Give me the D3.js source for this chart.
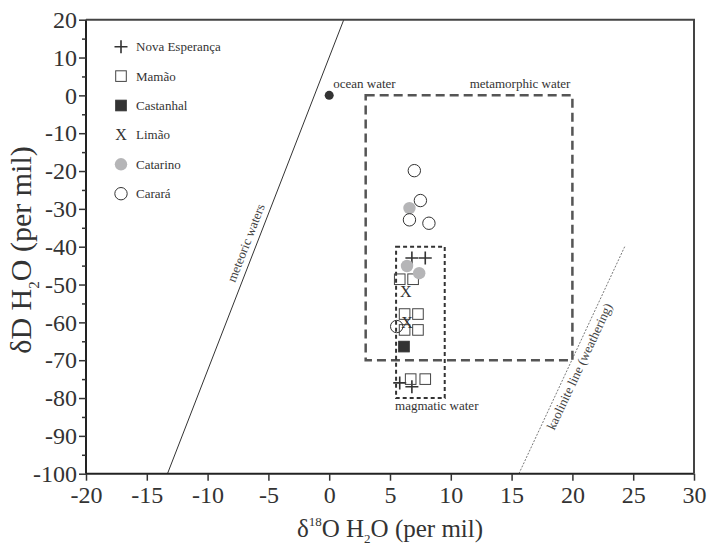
<!DOCTYPE html>
<html>
<head>
<meta charset="utf-8">
<script src="https://cdn.jsdelivr.net/npm/d3@7"></script>
<style>
  body { margin: 0; background: #fff; }
  svg { display: block; }
  svg text { font-family: "Liberation Serif", "Times New Roman", Times, "DejaVu Serif", serif !important; }
</style>
</head>
<body>
<svg id="chart" width="718" height="546" font-family="Liberation Serif, DejaVu Serif, serif"></svg>
<script>
// δ18O (x) and δD (y) of fluids, per mil
const novaEsperanca = [[6.8, -43], [7.9, -43], [5.8, -76], [6.8, -77]];
const mamao = [[5.8, -48.6], [6.9, -48.6], [6.2, -57.8], [7.3, -57.8], [6.2, -62], [7.3, -62], [6.7, -75], [7.9, -75]];
const castanhal = [[6.15, -66.4]];
const limao = [[6.3, -51.9], [6.4, -60]];
const catarino = [[6.6, -29.8], [6.4, -45.1], [7.4, -47]];
const carara = [[7.0, -19.9], [7.5, -27.8], [6.6, -32.9], [8.2, -33.8], [5.55, -61.1]];
const oceanWater = [[0, 0]];

const seriesNames = ["Nova Esperança", "Mamão", "Castanhal", "Limão", "Catarino", "Carará"];
const seriesData = [novaEsperanca, mamao, castanhal, limao, catarino, carara];
const seriesMarks = ["plus", "square", "squareFilled", "x", "circleGray", "circle"];

// reference lines and fields
const meteoricLine = [[-13.3, -100], [1.2, 20]];
const kaoliniteLine = [[15.6, -100], [24.3, -40]];
const metamorphicBox = { x0: 3, x1: 20, y0: -70, y1: 0 };
const magmaticBox = { x0: 5.5, x1: 9.5, y0: -80, y1: -40 };

const xTicks = d3.range(-20, 31, 5);
const yTicks = d3.range(-100, 21, 10);
const yMinorTicks = d3.range(-95, 20, 10);

const serif = '"Liberation Serif", "Times New Roman", Times, "DejaVu Serif", serif';
const svg = d3.select("#chart");
const x = d3.scaleLinear().domain([-20, 30]).range([86, 694]);
const y = d3.scaleLinear().domain([-100, 20]).range([473.7, 19.7]);
const ink = "#333";

function label(sel) {
  return sel.style("font-family", serif).attr("fill", ink);
}

// meteoric water line
const line = d3.line().x(d => x(d[0])).y(d => y(d[1]));
svg.append("path").attr("d", line(meteoricLine))
  .attr("fill", "none").attr("stroke", ink).attr("stroke-width", 1);
// kaolinite line
svg.append("path").attr("d", line(kaoliniteLine))
  .attr("fill", "none").attr("stroke", "#555").attr("stroke-width", 0.8)
  .attr("stroke-dasharray", "2,1.5");

// label placed along a line, offset perpendicular in the rotated frame
function lineLabel(pts, t, txt, dy) {
  const [a, b] = pts;
  const px = x(a[0]) + (x(b[0]) - x(a[0])) * t;
  const py = y(a[1]) + (y(b[1]) - y(a[1])) * t;
  const ang = Math.atan2(y(b[1]) - y(a[1]), x(b[0]) - x(a[0])) * 180 / Math.PI;
  label(svg.append("text")).attr("transform", `translate(${px},${py}) rotate(${ang})`)
    .attr("text-anchor", "middle").attr("dy", dy)
    .attr("font-size", 13).attr("fill", "#444").text(txt);
}
lineLabel(meteoricLine, 0.5, "meteoric waters", -6);
lineLabel(kaoliniteLine, 0.49, "kaolinite line (weathering)", 14);

// water fields
svg.append("rect")
  .attr("x", x(metamorphicBox.x0)).attr("y", y(metamorphicBox.y1))
  .attr("width", x(metamorphicBox.x1) - x(metamorphicBox.x0))
  .attr("height", y(metamorphicBox.y0) - y(metamorphicBox.y1))
  .attr("fill", "none").attr("stroke", "#555").attr("stroke-width", 2.5)
  .attr("stroke-dasharray", "9,5");
svg.append("rect")
  .attr("x", x(magmaticBox.x0)).attr("y", y(magmaticBox.y1))
  .attr("width", x(magmaticBox.x1) - x(magmaticBox.x0))
  .attr("height", y(magmaticBox.y0) - y(magmaticBox.y1))
  .attr("fill", "none").attr("stroke", ink).attr("stroke-width", 2)
  .attr("stroke-dasharray", "4,3");

label(svg.append("text")).attr("x", x(0) + 4).attr("y", y(0) - 7)
  .attr("font-size", 13).text("ocean water");
label(svg.append("text")).attr("x", x(metamorphicBox.x1) - 2).attr("y", y(metamorphicBox.y1) - 7)
  .attr("text-anchor", "end").attr("font-size", 13).text("metamorphic water");
label(svg.append("text")).attr("x", x(magmaticBox.x0) - 1).attr("y", y(magmaticBox.y0) + 12)
  .attr("font-size", 13).text("magmatic water");

// ocean water point
svg.selectAll(".ocean").data(oceanWater).join("circle")
  .attr("cx", d => x(d[0])).attr("cy", d => y(d[1])).attr("r", 4.5).attr("fill", ink);

// marker drawing
function drawMark(g, kind, cx, cy) {
  const s = 5.3;
  if (kind === "plus") {
    g.append("path").attr("d", `M${cx - 6.5},${cy}H${cx + 6.5}M${cx},${cy - 6.5}V${cy + 6.5}`)
      .attr("stroke", ink).attr("stroke-width", 1.6).attr("fill", "none");
  } else if (kind === "square" || kind === "squareFilled") {
    g.append("rect").attr("x", cx - s).attr("y", cy - s).attr("width", 2 * s).attr("height", 2 * s)
      .attr("fill", kind === "squareFilled" ? ink : "none")
      .attr("stroke", kind === "squareFilled" ? ink : "#444").attr("stroke-width", 1);
  } else if (kind === "x") {
    label(g.append("text")).attr("x", cx).attr("y", cy + 5.5).attr("text-anchor", "middle")
      .attr("font-size", 16).text("X");
  } else if (kind === "circleGray") {
    g.append("circle").attr("cx", cx).attr("cy", cy).attr("r", 6.2).attr("fill", "#b5b5b7");
  } else {
    g.append("circle").attr("cx", cx).attr("cy", cy).attr("r", 6.2)
      .attr("fill", "none").attr("stroke", ink).attr("stroke-width", 1);
  }
}

const pts = svg.append("g");
seriesData.forEach((data, i) => {
  data.forEach(d => drawMark(pts, seriesMarks[i], x(d[0]), y(d[1])));
});

// legend
const legend = svg.append("g");
seriesNames.forEach((name, i) => {
  const ly = 46.7 + i * 29.4;
  drawMark(legend, seriesMarks[i], 121, ly);
  label(legend.append("text")).attr("x", 136).attr("y", ly + 4.5)
    .attr("font-size", 13).text(name);
});

// axes (tick labels use a plain hyphen for negatives)
const axisFont = 24;
const tickLabel = d => String(d);
const gx = svg.append("g").attr("transform", `translate(0,${y(-100)})`)
  .call(d3.axisBottom(x).tickValues(xTicks).tickSize(7).tickPadding(5).tickFormat(tickLabel));
const gy = svg.append("g").attr("transform", `translate(${x(-20)},0)`)
  .call(d3.axisLeft(y).tickValues(yTicks).tickSize(7).tickPadding(2).tickFormat(tickLabel));
svg.append("g").attr("transform", `translate(${x(-20)},0)`)
  .call(d3.axisLeft(y).tickValues(yMinorTicks).tickSize(4).tickFormat(""))
  .call(g => g.select(".domain").remove())
  .selectAll("line").attr("stroke", ink).attr("stroke-width", 1.5);
[gx, gy].forEach(g => {
  g.attr("font-family", null);
  g.select(".domain").attr("stroke", "#222").attr("stroke-width", 2);
  g.selectAll(".tick line").attr("stroke", ink).attr("stroke-width", 1.5);
  label(g.selectAll(".tick text")).attr("font-size", axisFont);
});
gx.select(".domain").attr("d", `M${x(-20)},0H${x(30)}`);
gy.select(".domain").attr("d", `M0,${y(20)}V${y(-100)}`);

// top and right frame
svg.append("path")
  .attr("d", `M${x(-20)},${y(20)}H${x(30)}V${y(-100)}`)
  .attr("fill", "none").attr("stroke", "#444").attr("stroke-width", 2);

// axis titles
const xt = label(svg.append("text")).attr("x", 390).attr("y", 537)
  .attr("text-anchor", "middle").attr("font-size", 25);
xt.append("tspan").text("δ");
xt.append("tspan").attr("font-size", 13).attr("dy", -11).text("18");
xt.append("tspan").attr("dy", 11).text("O H");
xt.append("tspan").attr("font-size", 13).attr("dy", 6).text("2");
xt.append("tspan").attr("dy", -6).text("O (per mil)");

const yt = label(svg.append("text")).attr("transform", "translate(31,250) rotate(-90)")
  .attr("text-anchor", "middle").attr("font-size", 30);
yt.append("tspan").text("δD H");
yt.append("tspan").attr("font-size", 15).attr("dy", 8).text("2");
yt.append("tspan").attr("dy", -8).text("O (per mil)");
</script>
</body>
</html>
